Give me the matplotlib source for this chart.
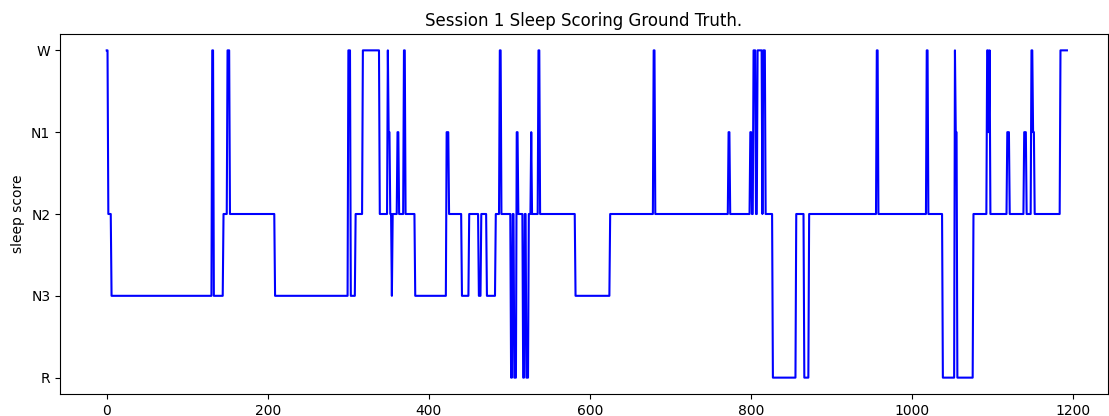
import numpy as np
import matplotlib
matplotlib.use("Agg")
import matplotlib.pyplot as plt

stage_labels = ['W', 'N1', 'N2', 'N3', 'R']

# run-length coded hypnogram: stage of each run and the epoch it starts at
seg_stage = ['W', 'N2', 'N3', 'W', 'N3', 'N2', 'W', 'N2', 'N3', 'W',
             'N3', 'N2', 'W', 'N2', 'W', 'N1', 'N2', 'N3', 'N2', 'N1',
             'N2', 'W', 'N2', 'N3', 'N1', 'N2', 'N3', 'N2', 'N3', 'N2',
             'N3', 'N2', 'W', 'N2', 'R', 'N2', 'R', 'N1', 'N2', 'R',
             'N2', 'R', 'N2', 'N1', 'N2', 'W', 'N2', 'N3', 'N2', 'W',
             'N2', 'N1', 'N2', 'N1', 'N2', 'W', 'N2', 'W', 'N2', 'W',
             'N2', 'R', 'N2', 'R', 'N2', 'W', 'N2', 'W', 'N2', 'R',
             'W', 'N1', 'R', 'N2', 'W', 'N1', 'W', 'N2', 'N1', 'N2',
             'N1', 'N2', 'W', 'N1', 'N2', 'W']
seg_start = [0, 2, 6, 131, 133, 145, 150, 153, 209, 300,
             303, 309, 318, 339, 349, 350, 352, 354, 355, 361,
             363, 369, 371, 383, 422, 425, 441, 450, 462, 465,
             472, 483, 488, 490, 502, 504, 506, 509, 511, 517,
             519, 521, 524, 527, 528, 536, 538, 582, 625, 679,
             681, 772, 774, 799, 801, 803, 806, 808, 814, 815,
             818, 827, 856, 866, 872, 956, 958, 1018, 1020, 1038,
             1053, 1054, 1056, 1076, 1093, 1095, 1096, 1097, 1118, 1121,
             1139, 1142, 1148, 1150, 1152, 1184]
n_epochs = 1193

codes = [stage_labels.index(s) for s in seg_stage]
lengths = np.diff(seg_start + [n_epochs])
hypnogram = np.repeat(codes, lengths)

fig = plt.figure(figsize=(11.09, 4.16), dpi=100)
ax = fig.add_axes([60/1109, 22/416, 1048/1109, 360/416])

ax.plot(np.arange(len(hypnogram)), hypnogram, color='blue')
ax.set_yticks(range(len(stage_labels)))
ax.set_yticklabels(stage_labels)
ax.set_ylim(4.2, -0.2)
ax.set_xlim(-58, 1243)
ax.set_ylabel('sleep score')
ax.set_title('Session 1 Sleep Scoring Ground Truth.')

fig.savefig('out.png', dpi=100)
